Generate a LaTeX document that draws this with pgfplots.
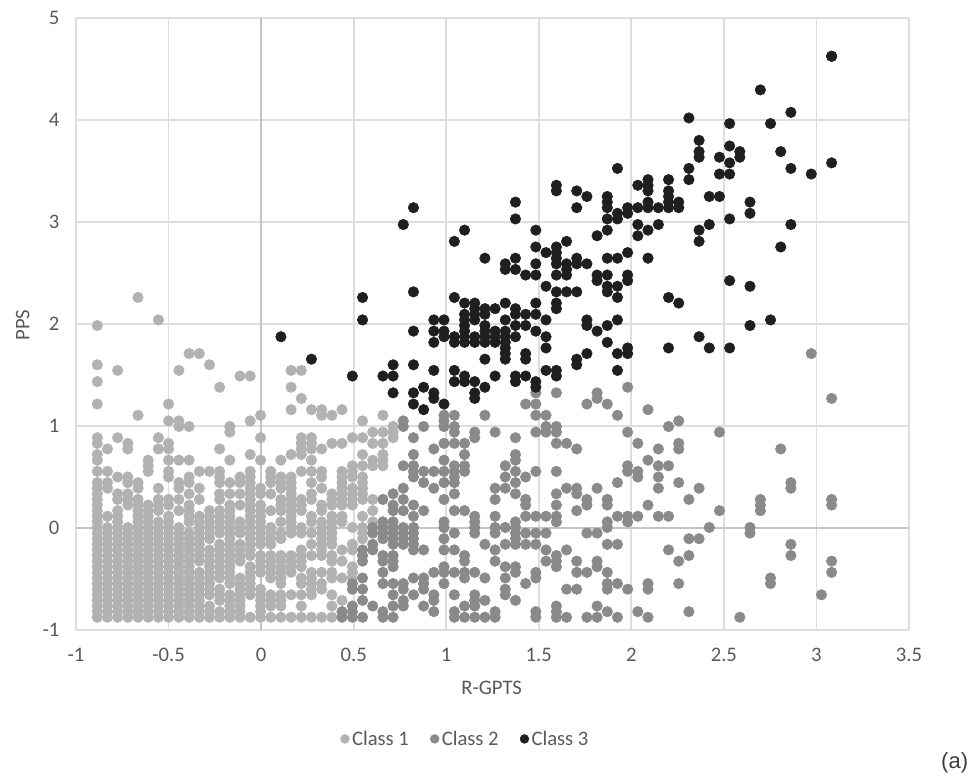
\documentclass[border=0pt]{standalone}
\usepackage{fontspec}
\setmainfont{Carlito}
\newfontfamily\arialfont{Liberation Sans}
\usepackage{pgfplots}
\pgfplotsset{compat=1.18}
\definecolor{classA}{HTML}{B2B2B2}
\definecolor{classB}{HTML}{8A8A8A}
\definecolor{classC}{HTML}{1F1F1F}
\definecolor{gridc}{HTML}{DEDEDE}
\definecolor{zeroc}{HTML}{C4C4C4}
\definecolor{textc}{HTML}{595959}
\begin{document}
\begin{tikzpicture}
\path[use as bounding box] (0,0) rectangle (730.5bp,582.75bp);
\begin{axis}[
    at={(57bp,110.25bp)}, anchor=south west,
    scale only axis, width=624.75bp, height=459bp,
    xmin=-1, xmax=3.5, ymin=-1, ymax=5,
    xtick={-1,-0.5,0,0.5,1,1.5,2,2.5,3,3.5},
    ytick={-1,0,1,2,3,4,5},
    xticklabels={-1,-0.5,0,0.5,1,1.5,2,2.5,3,3.5},
    yticklabels={-1,0,1,2,3,4,5},
    grid=major,
    major grid style={color=gridc, line width=1.3bp},
    extra x ticks={0}, extra y ticks={0},
    extra x tick labels={}, extra y tick labels={},
    extra tick style={major grid style={color=zeroc, line width=1.3bp}},
    axis line style={draw=none},
    major tick length=0pt,
    font=\fontsize{15.5bp}{18bp}\selectfont\color{textc},
    xticklabel style={anchor=north, yshift=-10bp},
    yticklabel style={anchor=east, xshift=-9bp},
    xlabel={R-GPTS}, ylabel={PPS},
    xlabel style={at={(axis description cs:0.499,-0.095)}, anchor=center},
    ylabel style={at={(axis description cs:-0.064,0.498)}, anchor=center},
    legend style={at={(axis description cs:0.468,-0.178)}, anchor=center, draw=none,
        fill=none, legend columns=3, /tikz/every even column/.append style={column sep=14bp}},
    legend cell align=left,
    legend image post style={mark size=3.3bp},
]
% Class 1
\addplot[only marks, mark=*, mark size=3.95bp, color=classA, mark options={draw=none, fill=classA}] coordinates {
(-.885,1.985)(-.885,1.6)(-.885,1.435)(-.885,1.215)(-.885,.885)(-.885,.83)(-.885,.72)(-.885,.665)(-.885,.555)(-.885,.445)(-.885,.39)(-.885,.335)(-.885,.28)(-.885,.225)(-.885,.17)(-.885,.115)(-.885,.06)(-.885,.005)(-.885,-.05)(-.885,-.105)(-.885,-.16)(-.885,-.215)(-.885,-.27)(-.885,-.325)(-.885,-.38)(-.885,-.435)(-.885,-.49)(-.885,-.545)(-.885,-.6)(-.885,-.655)(-.885,-.71)(-.885,-.765)(-.885,-.82)(-.885,-.875)
(-.83,.775)(-.83,.555)(-.83,.445)(-.83,.39)(-.83,.115)(-.83,.005)(-.83,-.05)(-.83,-.105)(-.83,-.16)(-.83,-.215)(-.83,-.27)(-.83,-.325)(-.83,-.38)(-.83,-.435)(-.83,-.49)(-.83,-.545)(-.83,-.6)(-.83,-.655)(-.83,-.71)(-.83,-.765)(-.83,-.82)(-.83,-.875)
(-.775,1.545)(-.775,.885)(-.775,.5)(-.775,.335)(-.775,.28)(-.775,.17)(-.775,.115)(-.775,.06)(-.775,.005)(-.775,-.05)(-.775,-.105)(-.775,-.16)(-.775,-.215)(-.775,-.27)(-.775,-.325)(-.775,-.38)(-.775,-.435)(-.775,-.49)(-.775,-.545)(-.775,-.6)(-.775,-.655)(-.775,-.71)(-.775,-.765)(-.775,-.82)(-.775,-.875)
(-.72,.83)(-.72,.775)(-.72,.5)(-.72,.445)(-.72,.335)(-.72,.28)(-.72,.225)(-.72,.005)(-.72,-.05)(-.72,-.105)(-.72,-.16)(-.72,-.215)(-.72,-.27)(-.72,-.325)(-.72,-.38)(-.72,-.435)(-.72,-.49)(-.72,-.545)(-.72,-.6)(-.72,-.655)(-.72,-.71)(-.72,-.765)(-.72,-.82)(-.72,-.875)
(-.665,2.26)(-.665,1.105)(-.665,.445)(-.665,.39)(-.665,.28)(-.665,.225)(-.665,.17)(-.665,.115)(-.665,.06)(-.665,.005)(-.665,-.05)(-.665,-.105)(-.665,-.16)(-.665,-.215)(-.665,-.27)(-.665,-.325)(-.665,-.38)(-.665,-.435)(-.665,-.49)(-.665,-.545)(-.665,-.6)(-.665,-.655)(-.665,-.71)(-.665,-.765)(-.665,-.82)(-.665,-.875)
(-.61,.665)(-.61,.61)(-.61,.555)(-.61,.225)(-.61,.17)(-.61,.115)(-.61,.06)(-.61,.005)(-.61,-.05)(-.61,-.105)(-.61,-.16)(-.61,-.215)(-.61,-.27)(-.61,-.325)(-.61,-.38)(-.61,-.435)(-.61,-.49)(-.61,-.545)(-.61,-.6)(-.61,-.655)(-.61,-.71)(-.61,-.765)(-.61,-.82)(-.61,-.875)
(-.555,2.04)(-.555,.885)(-.555,.775)(-.555,.39)(-.555,.28)(-.555,.225)(-.555,.17)(-.555,.06)(-.555,.005)(-.555,-.05)(-.555,-.105)(-.555,-.16)(-.555,-.215)(-.555,-.27)(-.555,-.325)(-.555,-.38)(-.555,-.435)(-.555,-.49)(-.555,-.545)(-.555,-.6)(-.555,-.655)(-.555,-.71)(-.555,-.765)(-.555,-.82)(-.555,-.875)
(-.5,1.215)(-.5,1.05)(-.5,.83)(-.5,.775)(-.5,.665)(-.5,.555)(-.5,.5)(-.5,.28)(-.5,.225)(-.5,.115)(-.5,.06)(-.5,.005)(-.5,-.05)(-.5,-.105)(-.5,-.16)(-.5,-.215)(-.5,-.27)(-.5,-.325)(-.5,-.38)(-.5,-.435)(-.5,-.49)(-.5,-.545)(-.5,-.6)(-.5,-.655)(-.5,-.71)(-.5,-.765)(-.5,-.82)(-.5,-.875)
(-.444,1.545)(-.444,1.05)(-.444,.995)(-.444,.665)(-.444,.445)(-.444,.39)(-.444,.28)(-.444,.17)(-.444,.005)(-.444,-.05)(-.444,-.105)(-.444,-.16)(-.444,-.215)(-.444,-.27)(-.444,-.325)(-.444,-.38)(-.444,-.435)(-.444,-.49)(-.444,-.545)(-.444,-.6)(-.444,-.655)(-.444,-.71)(-.444,-.765)(-.444,-.82)(-.444,-.875)
(-.389,1.71)(-.389,.995)(-.389,.665)(-.389,.5)(-.389,.445)(-.389,.335)(-.389,.225)(-.389,.17)(-.389,.115)(-.389,.06)(-.389,-.05)(-.389,-.105)(-.389,-.16)(-.389,-.215)(-.389,-.27)(-.389,-.325)(-.389,-.38)(-.389,-.435)(-.389,-.49)(-.389,-.545)(-.389,-.6)(-.389,-.655)(-.389,-.71)(-.389,-.765)(-.389,-.82)(-.389,-.875)
(-.334,1.71)(-.334,.555)(-.334,.39)(-.334,.28)(-.334,.115)(-.334,.06)(-.334,.005)(-.334,-.05)(-.334,-.105)(-.334,-.16)(-.334,-.215)(-.334,-.27)(-.334,-.325)(-.334,-.435)(-.334,-.49)(-.334,-.545)(-.334,-.6)(-.334,-.655)(-.334,-.71)(-.334,-.765)(-.334,-.82)(-.334,-.875)
(-.279,1.6)(-.279,.555)(-.279,.17)(-.279,.115)(-.279,.06)(-.279,.005)(-.279,-.05)(-.279,-.105)(-.279,-.215)(-.279,-.27)(-.279,-.325)(-.279,-.38)(-.279,-.435)(-.279,-.49)(-.279,-.545)(-.279,-.6)(-.279,-.655)(-.279,-.765)(-.279,-.82)(-.279,-.875)
(-.224,1.38)(-.224,.775)(-.224,.555)(-.224,.5)(-.224,.445)(-.224,.335)(-.224,.28)(-.224,.17)(-.224,.115)(-.224,.06)(-.224,.005)(-.224,-.05)(-.224,-.16)(-.224,-.215)(-.224,-.27)(-.224,-.325)(-.224,-.38)(-.224,-.435)(-.224,-.49)(-.224,-.6)(-.224,-.655)(-.224,-.71)(-.224,-.82)(-.224,-.875)
(-.169,.995)(-.169,.94)(-.169,.665)(-.169,.445)(-.169,.335)(-.169,.225)(-.169,.17)(-.169,.115)(-.169,.06)(-.169,.005)(-.169,-.05)(-.169,-.105)(-.169,-.16)(-.169,-.215)(-.169,-.27)(-.169,-.325)(-.169,-.38)(-.169,-.435)(-.169,-.49)(-.169,-.545)(-.169,-.655)(-.169,-.71)(-.169,-.765)(-.169,-.82)(-.169,-.875)
(-.114,1.49)(-.114,.5)(-.114,.445)(-.114,.335)(-.114,.225)(-.114,.06)(-.114,.005)(-.114,-.05)(-.114,-.16)(-.114,-.215)(-.114,-.27)(-.114,-.325)(-.114,-.49)(-.114,-.545)(-.114,-.6)(-.114,-.655)(-.114,-.71)(-.114,-.765)(-.114,-.82)(-.114,-.875)
(-.059,1.49)(-.059,1.05)(-.059,.72)(-.059,.555)(-.059,.5)(-.059,.445)(-.059,.39)(-.059,.335)(-.059,.28)(-.059,.225)(-.059,.17)(-.059,.115)(-.059,.06)(-.059,.005)(-.059,-.05)(-.059,-.105)(-.059,-.16)(-.059,-.215)(-.059,-.27)(-.059,-.38)(-.059,-.435)(-.059,-.49)(-.059,-.545)(-.059,-.6)(-.059,-.655)(-.059,-.875)
(-.003,1.105)(-.003,.885)(-.003,.665)(-.003,.39)(-.003,.335)(-.003,.225)(-.003,.17)(-.003,.115)(-.003,.06)(-.003,.005)(-.003,-.05)(-.003,-.105)(-.003,-.16)(-.003,-.27)(-.003,-.325)(-.003,-.38)(-.003,-.435)(-.003,-.6)(-.003,-.655)(-.003,-.71)(-.003,-.765)(-.003,-.82)(-.003,-.875)
(.052,.555)(.052,.5)(.052,.445)(.052,.335)(.052,.17)(.052,.005)(.052,-.05)(.052,-.105)(.052,-.16)(.052,-.27)(.052,-.325)(.052,-.38)(.052,-.435)(.052,-.49)(.052,-.655)(.052,-.71)(.052,-.765)(.052,-.875)
(.107,.665)(.107,.5)(.107,.445)(.107,.39)(.107,.28)(.107,.225)(.107,.17)(.107,.06)(.107,-.05)(.107,-.105)(.107,-.27)(.107,-.325)(.107,-.38)(.107,-.435)(.107,-.49)(.107,-.545)(.107,-.655)(.107,-.71)(.107,-.765)(.107,-.875)
(.162,1.545)(.162,1.38)(.162,1.16)(.162,.72)(.162,.5)(.162,.445)(.162,.39)(.162,.335)(.162,.28)(.162,.225)(.162,.17)(.162,.115)(.162,.06)(.162,.005)(.162,-.05)(.162,-.27)(.162,-.325)(.162,-.38)(.162,-.435)(.162,-.655)(.162,-.875)
(.217,1.545)(.217,1.27)(.217,.885)(.217,.83)(.217,.775)(.217,.72)(.217,.555)(.217,.28)(.217,.225)(.217,.17)(.217,.005)(.217,-.05)(.217,-.215)(.217,-.27)(.217,-.325)(.217,-.38)(.217,-.49)(.217,-.545)(.217,-.655)(.217,-.765)(.217,-.875)
(.272,1.16)(.272,.885)(.272,.83)(.272,.775)(.272,.665)(.272,.555)(.272,.445)(.272,.335)(.272,.28)(.272,.115)(.272,.06)(.272,-.05)(.272,-.16)(.272,-.27)(.272,-.435)(.272,-.49)(.272,-.545)(.272,-.6)(.272,-.655)(.272,-.875)
(.327,1.16)(.327,1.105)(.327,.775)(.327,.555)(.327,.5)(.327,.39)(.327,.225)(.327,.17)(.327,.06)(.327,.005)(.327,-.05)(.327,-.105)(.327,-.16)(.327,-.215)(.327,-.27)(.327,-.435)(.327,-.545)(.327,-.6)(.327,-.875)
(.382,1.105)(.382,.83)(.382,.335)(.382,.28)(.382,.225)(.382,.115)(.382,.06)(.382,.005)(.382,-.05)(.382,-.105)(.382,-.16)(.382,-.27)(.382,-.325)(.382,-.435)(.382,-.49)(.382,-.655)(.382,-.765)(.382,-.875)
(.437,1.16)(.437,.83)(.437,.555)(.437,.5)(.437,.445)(.437,.39)(.437,.335)(.437,.28)(.437,.225)(.437,.115)(.437,.06)(.437,-.215)(.437,-.325)(.437,-.49)(.437,-.71)
(.493,.885)(.493,.61)(.493,.555)(.493,.5)(.493,.39)(.493,.335)(.493,.28)(.493,.225)(.493,.005)(.493,-.16)(.493,-.215)(.493,-.38)(.493,-.435)(.493,-.49)
(.548,1.05)(.548,.885)(.548,.72)(.548,.61)(.548,.5)(.548,.445)(.548,.39)(.548,.335)(.548,.28)(.548,.115)(.548,.005)(.548,-.05)(.548,-.105)
(.603,.94)(.603,.83)(.603,.665)(.603,.61)(.603,.28)(.603,.17)(.603,.06)
(.658,1.105)(.658,.94)(.658,.83)(.658,.72)(.658,.665)(.658,.61)
(.713,.995)(.713,.94)(.713,.885)
};
\addlegendentry{Class 1}
% Class 2
\addplot[only marks, mark=*, mark size=3.95bp, color=classB, mark options={draw=none, fill=classB}] coordinates {
(.437,-.82)(.437,-.875)
(.493,-.545)(.493,-.6)(.493,-.765)(.493,-.82)(.493,-.875)
(.548,-.215)(.548,-.27)(.548,-.325)(.548,-.49)(.548,-.6)(.548,-.71)(.548,-.875)
(.603,.005)(.603,-.05)(.603,-.16)(.603,-.215)(.603,-.765)
(.658,.28)(.658,.06)(.658,.005)(.658,-.05)(.658,-.105)(.658,-.27)(.658,-.325)(.658,-.435)(.658,-.545)(.658,-.82)(.658,-.875)
(.713,.335)(.713,.225)(.713,.17)(.713,.06)(.713,.005)(.713,-.05)(.713,-.105)(.713,-.16)(.713,-.27)(.713,-.325)(.713,-.38)(.713,-.545)(.713,-.655)(.713,-.765)(.713,-.875)
(.768,1.05)(.768,.995)(.768,.61)(.768,.39)(.768,.28)(.768,.17)(.768,.005)(.768,-.05)(.768,-.105)(.768,-.16)(.768,-.545)(.768,-.6)(.768,-.71)(.768,-.765)
(.823,.885)(.823,.72)(.823,.61)(.823,.555)(.823,.5)(.823,.225)(.823,.115)(.823,.005)(.823,-.05)(.823,-.105)(.823,-.16)(.823,-.215)(.823,-.49)(.823,-.655)
(.878,.995)(.878,.555)(.878,.445)(.878,.17)(.878,-.215)(.878,-.49)(.878,-.545)(.878,-.6)(.878,-.765)
(.933,.775)(.933,.555)(.933,.39)(.933,-.435)(.933,-.655)(.933,-.71)(.933,-.82)
(.988,1.105)(.988,1.05)(.988,.995)(.988,.83)(.988,.665)(.988,.555)(.988,.445)(.988,.28)(.988,.06)(.988,.005)(.988,-.105)(.988,-.215)(.988,-.38)(.988,-.435)(.988,-.545)
(1.044,1.105)(1.044,.995)(1.044,.94)(1.044,.83)(1.044,.61)(1.044,.555)(1.044,.5)(1.044,.445)(1.044,.335)(1.044,.17)(1.044,-.05)(1.044,-.215)(1.044,-.435)(1.044,-.655)(1.044,-.82)(1.044,-.875)
(1.099,.83)(1.099,.72)(1.099,.61)(1.099,.555)(1.099,.17)(1.099,-.27)(1.099,-.325)(1.099,-.435)(1.099,-.49)(1.099,-.765)(1.099,-.875)
(1.154,.94)(1.154,.885)(1.154,.115)(1.154,.06)(1.154,.005)(1.154,-.05)(1.154,-.435)(1.154,-.655)(1.154,-.71)(1.154,-.765)(1.154,-.875)
(1.209,1.105)(1.209,-.16)(1.209,-.49)(1.209,-.71)(1.209,-.875)
(1.264,.94)(1.264,.39)(1.264,.28)(1.264,.115)(1.264,.005)(1.264,-.05)(1.264,-.215)(1.264,-.325)(1.264,-.82)(1.264,-.875)
(1.319,.61)(1.319,.5)(1.319,.39)(1.319,.005)(1.319,-.16)(1.319,-.38)(1.319,-.49)(1.319,-.6)(1.319,-.655)
(1.374,.885)(1.374,.72)(1.374,.665)(1.374,.555)(1.374,.445)(1.374,.335)(1.374,.06)(1.374,.005)(1.374,-.05)(1.374,-.105)(1.374,-.16)(1.374,-.38)(1.374,-.435)(1.374,-.71)
(1.429,1.215)(1.429,.5)(1.429,.28)(1.429,.225)(1.429,.115)(1.429,-.05)(1.429,-.16)(1.429,-.545)
(1.484,1.325)(1.484,1.215)(1.484,1.105)(1.484,.94)(1.484,.555)(1.484,.115)(1.484,-.05)(1.484,-.16)(1.484,-.435)(1.484,-.49)(1.484,-.82)(1.484,-.875)
(1.539,1.105)(1.539,.995)(1.539,.94)(1.539,.115)(1.539,-.05)(1.539,-.215)(1.539,-.325)
(1.595,1.325)(1.595,.995)(1.595,.94)(1.595,.83)(1.595,.555)(1.595,.335)(1.595,.225)(1.595,.115)(1.595,.06)(1.595,-.27)(1.595,-.325)(1.595,-.38)(1.595,-.765)(1.595,-.82)(1.595,-.875)
(1.65,.83)(1.65,.39)(1.65,-.215)(1.65,-.6)(1.65,-.875)
(1.705,.775)(1.705,.39)(1.705,.335)(1.705,.17)(1.705,-.325)(1.705,-.435)(1.705,-.6)
(1.76,1.215)(1.76,.28)(1.76,.225)(1.76,-.05)(1.76,-.435)(1.76,-.875)
(1.815,1.325)(1.815,1.27)(1.815,.39)(1.815,-.05)(1.815,-.325)(1.815,-.38)(1.815,-.765)(1.815,-.875)
(1.87,1.215)(1.87,.28)(1.87,.225)(1.87,.06)(1.87,.005)(1.87,-.16)(1.87,-.435)(1.87,-.545)(1.87,-.6)(1.87,-.82)
(1.925,1.105)(1.925,.445)(1.925,.115)(1.925,-.16)(1.925,-.545)(1.925,-.875)
(1.98,1.38)(1.98,.94)(1.98,.61)(1.98,.555)(1.98,.115)(1.98,.06)(1.98,-.6)
(2.035,.83)(2.035,.555)(2.035,.5)(2.035,.115)(2.035,-.82)
(2.09,1.16)(2.09,.665)(2.09,.225)(2.09,-.545)(2.09,-.6)(2.09,-.875)
(2.146,.775)(2.146,.61)(2.146,.5)(2.146,.39)(2.146,.115)
(2.201,.995)(2.201,.61)(2.201,.115)(2.201,-.215)
(2.256,1.05)(2.256,.83)(2.256,.775)(2.256,.445)(2.256,-.325)(2.256,-.545)
(2.311,.28)(2.311,-.105)(2.311,-.27)(2.311,-.82)
(2.366,.39)(2.366,-.105)
(2.421,.005)
(2.476,.94)(2.476,.17)
(2.586,-.875)
(2.641,.005)(2.641,-.05)
(2.697,.28)(2.697,.225)(2.697,.17)
(2.752,-.49)(2.752,-.545)
(2.807,.775)
(2.862,.445)(2.862,.39)(2.862,-.16)(2.862,-.27)
(2.972,1.71)
(3.027,-.655)
(3.082,1.27)(3.082,.28)(3.082,.225)(3.082,-.325)(3.082,-.435)
};
\addlegendentry{Class 2}
% Class 3
\addplot[only marks, mark=*, mark size=3.95bp, color=classC, mark options={draw=none, fill=classC}] coordinates {
(.107,1.875)(.272,1.655)(.493,1.49)
(.548,2.26)(.548,2.04)
(.658,1.49)
(.713,1.6)(.713,1.49)(.713,1.325)
(.768,2.975)
(.823,3.14)(.823,2.315)(.823,1.93)(.823,1.6)(.823,1.325)(.823,1.215)
(.878,1.38)(.878,1.16)
(.933,2.04)(.933,1.93)(.933,1.82)(.933,1.545)(.933,1.325)(.933,1.27)
(.988,2.04)(.988,1.93)(.988,1.875)(.988,1.215)
(1.044,2.81)(1.044,2.26)(1.044,1.875)(1.044,1.82)(1.044,1.545)(1.044,1.435)
(1.099,2.92)(1.099,2.205)(1.099,2.095)(1.099,2.04)(1.099,1.985)(1.099,1.93)(1.099,1.875)(1.099,1.82)(1.099,1.49)(1.099,1.435)
(1.154,2.205)(1.154,2.15)(1.154,2.095)(1.154,2.04)(1.154,1.875)(1.154,1.82)(1.154,1.435)(1.154,1.325)(1.154,1.27)
(1.209,2.645)(1.209,2.15)(1.209,2.095)(1.209,1.985)(1.209,1.93)(1.209,1.875)(1.209,1.82)(1.209,1.655)(1.209,1.38)
(1.264,2.15)(1.264,1.93)(1.264,1.875)(1.264,1.82)(1.264,1.49)
(1.319,2.59)(1.319,2.535)(1.319,2.205)(1.319,2.04)(1.319,1.93)(1.319,1.875)(1.319,1.82)(1.319,1.765)(1.319,1.71)(1.319,1.655)
(1.374,3.195)(1.374,3.03)(1.374,2.645)(1.374,2.535)(1.374,2.15)(1.374,2.095)(1.374,1.985)(1.374,1.875)(1.374,1.49)(1.374,1.435)
(1.429,2.48)(1.429,2.095)(1.429,1.985)(1.429,1.71)(1.429,1.655)(1.429,1.49)
(1.484,2.92)(1.484,2.755)(1.484,2.59)(1.484,2.48)(1.484,2.205)(1.484,2.095)(1.484,1.93)(1.484,1.435)(1.484,1.38)
(1.539,2.7)(1.539,2.37)(1.539,2.04)(1.539,1.875)(1.539,1.765)(1.539,1.545)
(1.595,3.36)(1.595,3.305)(1.595,2.755)(1.595,2.7)(1.595,2.645)(1.595,2.59)(1.595,2.48)(1.595,2.315)(1.595,2.205)(1.595,2.15)(1.595,1.545)(1.595,1.49)
(1.65,2.81)(1.65,2.59)(1.65,2.535)(1.65,2.48)(1.65,2.315)
(1.705,3.305)(1.705,3.14)(1.705,2.645)(1.705,2.59)(1.705,2.315)(1.705,1.655)(1.705,1.6)
(1.76,3.25)(1.76,2.59)(1.76,2.04)(1.76,1.985)(1.76,1.71)
(1.815,2.865)(1.815,2.48)(1.815,2.425)(1.815,1.93)
(1.87,3.25)(1.87,3.195)(1.87,3.14)(1.87,3.03)(1.87,2.92)(1.87,2.645)(1.87,2.48)(1.87,2.37)(1.87,2.315)(1.87,1.985)(1.87,1.82)
(1.925,3.525)(1.925,3.085)(1.925,3.03)(1.925,2.645)(1.925,2.37)(1.925,2.26)(1.925,2.04)(1.925,1.71)(1.925,1.545)
(1.98,3.14)(1.98,3.085)(1.98,2.7)(1.98,2.48)(1.98,2.425)(1.98,1.765)(1.98,1.71)
(2.035,3.36)(2.035,3.14)(2.035,2.975)(2.035,2.865)
(2.09,3.415)(2.09,3.36)(2.09,3.305)(2.09,3.195)(2.09,3.14)(2.09,2.92)(2.09,2.645)
(2.146,3.14)(2.146,2.975)
(2.201,3.415)(2.201,3.305)(2.201,3.25)(2.201,3.195)(2.201,3.14)(2.201,2.26)(2.201,1.765)
(2.256,3.195)(2.256,3.14)(2.256,2.205)
(2.311,4.02)(2.311,3.525)(2.311,3.415)
(2.366,3.8)(2.366,3.69)(2.366,3.635)(2.366,2.92)(2.366,2.81)(2.366,1.875)
(2.421,3.25)(2.421,2.975)(2.421,1.765)
(2.476,3.635)(2.476,3.47)(2.476,3.25)
(2.531,3.965)(2.531,3.745)(2.531,3.58)(2.531,3.47)(2.531,3.03)(2.531,2.425)(2.531,1.765)
(2.586,3.69)(2.586,3.635)
(2.641,3.195)(2.641,3.085)(2.641,2.37)(2.641,1.985)
(2.697,4.295)
(2.752,3.965)(2.752,2.04)
(2.807,3.69)(2.807,2.755)
(2.862,4.075)(2.862,3.525)(2.862,2.975)
(2.972,3.47)
(3.082,4.625)(3.082,4.625)(3.082,3.58)
};
\addlegendentry{Class 3}
\end{axis}
\node[anchor=center, font=\arialfont\fontsize{16.5bp}{20bp}\selectfont, text=textc!70!black] at (716bp,11bp) {(a)};
\end{tikzpicture}
\end{document}
